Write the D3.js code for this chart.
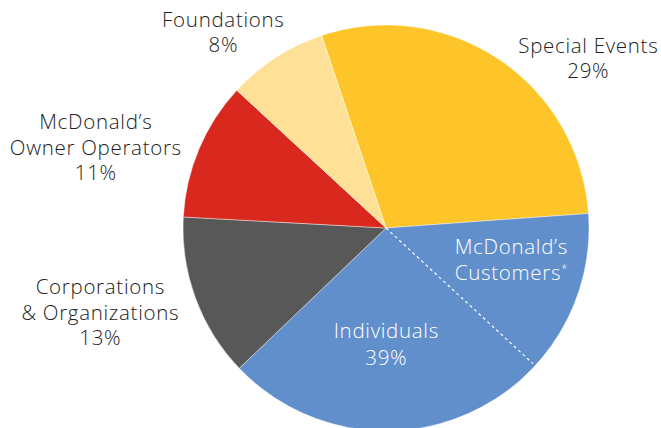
<!DOCTYPE html>
<html><head><meta charset="utf-8">
<script src="https://cdn.jsdelivr.net/npm/d3@7/dist/d3.min.js"></script>
<style>html,body{margin:0;padding:0;background:#fff;}svg{display:block;} text{font-variant-ligatures:none;}</style>
</head><body>
<svg id="chart" width="661" height="428"></svg>
<script>
const categories = ["Special Events", "Individuals", "Corporations & Organizations", "McDonald's Owner Operators", "Foundations"];
const values = [29, 39, 13, 11, 8];
const colors = ["#FEC52A", "#618FCB", "#585858", "#D9291E", "#FEE196"];
// share of Individuals that is McDonald's Customers (boundary drawn dashed)
const customersShare = 13;
const labelLines = [
  ["Special Events", "29%"],
  ["Individuals", "39%"],
  ["Corporations", "& Organizations", "13%"],
  ["McDonald’s", "Owner Operators", "11%"],
  ["Foundations", "8%"]
];
const labelPos = [[588, 52.5], [386, 337.5], [100, 294], [95.5, 129], [223, 26.5]];
const labelFill = ["#222222", "#ffffff", "#222222", "#222222", "#222222"];

const svg = d3.select("#chart");
const cx = 386, cy = 228, R = 203;
const startAngle = -18.5 * Math.PI / 180;
const total = d3.sum(values);
const pie = d3.pie().sort(null).value(d => d).startAngle(startAngle).endAngle(startAngle + 2 * Math.PI);
const arcs = pie(values);
const arc = d3.arc().innerRadius(0).outerRadius(R);
const g = svg.append("g").attr("transform", `translate(${cx},${cy})`);
g.selectAll("path").data(arcs).join("path")
  .attr("d", arc)
  .attr("fill", (d, i) => colors[i])
  .attr("stroke", "rgba(255,255,255,0.6)")
  .attr("stroke-width", 0.7);

// dashed boundary for McDonald's Customers inside Individuals
const a = arcs[1].startAngle + customersShare / total * 2 * Math.PI;
g.append("line")
  .attr("x1", 0).attr("y1", 0)
  .attr("x2", (R - 3) * Math.sin(a)).attr("y2", -(R - 3) * Math.cos(a))
  .attr("stroke", "#fff").attr("stroke-width", 1.2).attr("stroke-dasharray", "3,3");

const font = "'Open Sans', Lato, sans-serif";
const fs = 20.5, fw = 300, ls = 0.7;
function addLabel(x, y, lines, fill, gap) {
  const t = svg.append("text")
    .attr("x", x).attr("y", y)
    .attr("text-anchor", "middle")
    .attr("font-family", font).attr("font-size", fs).attr("font-weight", fw)
    .attr("letter-spacing", ls).attr("fill", fill);
  lines.forEach((l, j) => t.append("tspan").attr("x", x + ls / 2).attr("dy", j === 0 ? 0 : gap).text(l));
  return t;
}
labelLines.forEach((lines, i) => addLabel(labelPos[i][0], labelPos[i][1], lines, labelFill[i], i === 1 ? 27.5 : 25.5));
// McDonald's Customers label
const ct = addLabel(511, 254, ["McDonald’s", "Customers"], "#fff", 26);
ct.select("tspan:last-child").append("tspan").attr("font-size", 11).attr("dy", -8).text("*");
</script>
</body></html>
